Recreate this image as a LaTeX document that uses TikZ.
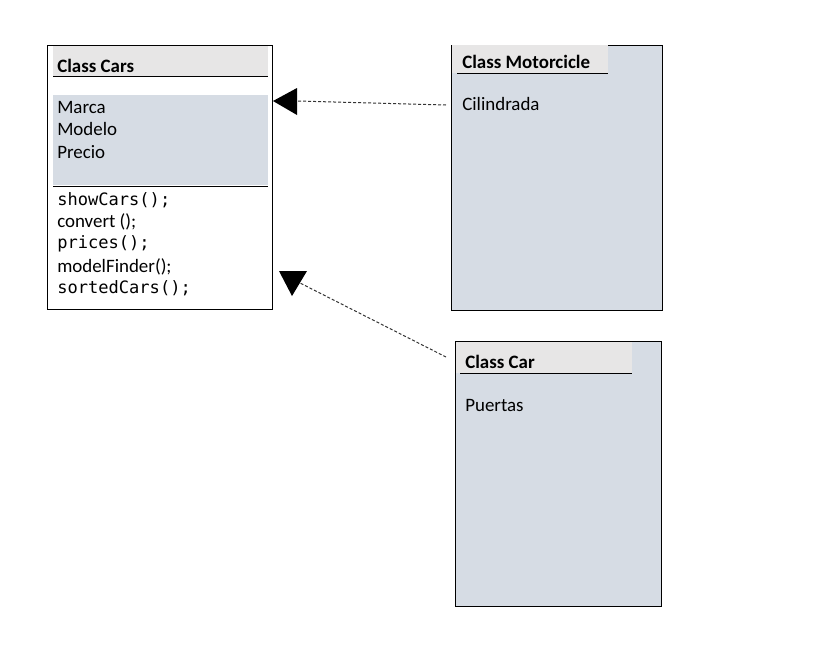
\documentclass[tikz,border=0pt]{standalone}
\usepackage{fontspec}
\setmainfont{Carlito}
\newfontfamily\monofont{DejaVu Sans Mono}
\definecolor{hdrgray}{HTML}{E7E6E6}
\definecolor{attrblue}{HTML}{D6DCE4}
\begin{document}
\begin{tikzpicture}[x=0.75pt,y=-0.75pt,
  box/.style={draw=black, line width=0.75pt, inner sep=0pt, anchor=north west},
  txt/.style={anchor=base west, inner sep=0pt, font=\fontsize{14.2}{17}\selectfont},
  hdr/.style={anchor=base west, inner sep=0pt, font=\fontsize{14.2}{17}\selectfont\bfseries},
  mono/.style={anchor=base west, inner sep=0pt, font=\monofont\fontsize{12.8}{15}\selectfont},
  sepline/.style={draw=black, line width=0.75pt},
  dep/.style={draw=black!80, dash pattern=on 2.25pt off 1.5pt, line width=0.75pt},
  tiptri/.style={fill=black}]
\useasboundingbox (0,0) rectangle (817,654);

% ---- Class Cars
\node[box, fill=white, minimum width={225*0.75pt}, minimum height={264*0.75pt}] (cars) at (47,44.5) {};
\fill[hdrgray] (53,46) rectangle (268,76);
\draw[sepline] (53,76) -- (268,76);
\fill[attrblue] (53,95) rectangle (268,185);
\draw[sepline] (53,186) -- (268,186);
\node[hdr] (carsT) at (57,72) {Class Cars};
\node[txt] (c1) at (57,113) {Marca};
\node[txt] (c2) at (57,135.8) {Modelo};
\node[txt] (c3) at (57,158.8) {Precio};
\node[mono] (m1) at (57,205) {showCars();};
\node[txt]  (m2) at (57,227.2) {convert ();};
\node[mono] (m3) at (57,248.5) {prices();};
\node[txt]  (m4) at (57,272.7) {modelFinder();};
\node[mono] (m5) at (57,293.3) {sortedCars();};

% ---- Class Motorcicle
\node[box, fill=attrblue, minimum width={211*0.75pt}, minimum height={265*0.75pt}] (moto) at (451,44.5) {};
\fill[hdrgray] (452,45.3) rectangle (608,73);
\draw[sepline] (457,73) -- (608,73);
\node[hdr] (motoT) at (462,68.5) {Class Motorcicle};
\node[txt] (mo1) at (462,110.5) {Cilindrada};

% ---- Class Car
\node[box, fill=attrblue, minimum width={206*0.75pt}, minimum height={265*0.75pt}] (car) at (455,341) {};
\fill[hdrgray] (456,341.8) rectangle (632,373);
\draw[sepline] (460,373) -- (632,373);
\node[hdr] (carT) at (465,368.5) {Class Car};
\node[txt] (ca1) at (465,411) {Puertas};

% ---- dependency arrows
\coordinate (s1) at (446,105);
\coordinate (b1) at (297,101);
\coordinate (t1) at (273,101);
\draw[dep] (s1) -- (b1);
\fill[tiptri] (t1) -- (297,88) -- (297,115) -- cycle;

\coordinate (s2) at (446,357);
\coordinate (b2) at (300,283);
\coordinate (t2) at (292,296);
\draw[dep] (s2) -- (b2);
\fill[tiptri] (t2) -- (279,271) -- (307,271) -- cycle;
\end{tikzpicture}
\end{document}
